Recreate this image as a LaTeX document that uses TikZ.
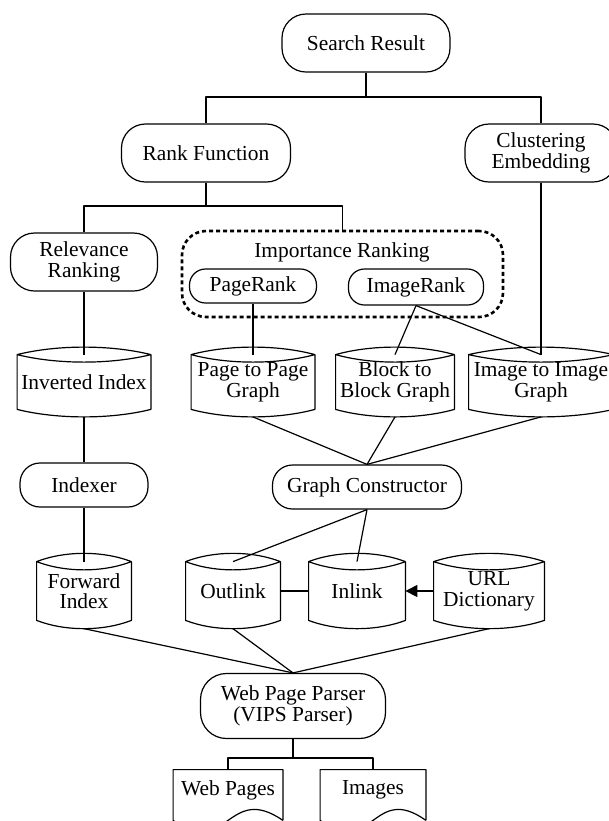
\documentclass[tikz,border=0pt]{standalone}
\usepackage{fontspec}
\setmainfont{Liberation Serif}
\usetikzlibrary{calc,arrows.meta}
\tikzset{
  base/.style={font=\fontsize{10.7}{10.3}\selectfont,align=center,inner sep=0pt},
  term/.style={base,draw,line width=0.6pt,rounded corners=12pt,minimum height=29pt},
  store/.style={base,minimum height=27pt},
  doc/.style={base,minimum height=20pt},
  group/.style={draw,line width=1.3pt,dash pattern=on 2pt off 1.5pt,rounded corners=12pt,inner sep=0pt},
  link/.style={line width=0.6pt},
  stem/.style={line width=1.2pt},
}

\begin{document}
\begin{tikzpicture}[x=0.5pt,y=-0.5pt,line join=round]
  \clip (0,0) rectangle (609,821);
  \fill[white] (0,0) rectangle (609,821);
  % ranking part
  \node[term,minimum width=84pt] (sr) at (366,43) {Search Result};
  \node[term,minimum width=84.5pt] (rf) at (206,153) {Rank Function};
  \node[term,minimum width=76pt] (ce) at (541,153) {Clustering\\Embedding};
  \node[term,minimum width=73.5pt] (rr) at (84,262) {Relevance\\Ranking};
  \node[group,minimum width=160.5pt,minimum height=43pt] (imp) at (342.5,274) {};
  \node[base] (implbl) at (342,252) {Importance Ranking};
  \node[term,rounded corners=8pt,minimum width=63.5pt,minimum height=17pt] (pr) at (253,286) {PageRank};
  \node[term,rounded corners=8pt,minimum width=67.5pt,minimum height=18pt] (ir) at (416,287) {ImageRank};
  % stores
  \node[store,minimum width=66.5pt] (inv) at (84,382) {Inverted Index};
  \node[store,minimum width=61.5pt] (p2p) at (253,382) {Page to Page\\Graph};
  \node[store,minimum width=59pt] (b2b) at (395,382) {Block to\\Block Graph};
  \node[store,minimum width=72pt] (i2i) at (541,382) {Image to Image\\Graph};
  \node[term,rounded corners=10pt,minimum width=64pt,minimum height=22pt] (idx) at (84,485) {Indexer};
  \node[term,rounded corners=10pt,minimum width=94.5pt,minimum height=22pt] (gc) at (367,487) {Graph Constructor};
  \node[store,minimum width=47pt,minimum height=29pt] (fwd) at (84,591) {Forward\\Index};
  \node[store,minimum width=47pt,minimum height=29pt] (out) at (233,591) {Outlink};
  \node[store,minimum width=48pt,minimum height=29pt] (inl) at (357,591) {Inlink};
  \node[store,minimum width=55pt,minimum height=29pt] (url) at (489,591) {URL\\Dictionary};
  \node[term,rounded corners=13pt,minimum width=92.5pt,minimum height=32.5pt] (wpp) at (293,706) {Web Page Parser\\(VIPS Parser)};
  \node[doc,minimum width=54.5pt] (wp) at (228,790) {Web Pages};
  \node[doc,minimum width=52.5pt] (img) at (373,790) {Images};

  \foreach \n/\bulge in {inv/10,p2p/10,b2b/10,i2i/10,fwd/11,out/11,inl/11,url/11}{
    \draw[link] (\n.north west)
      .. controls ($(\n.north west)!.3!(\n.north east)+(0,-\bulge)$) and ($(\n.north west)!.7!(\n.north east)+(0,-\bulge)$) .. (\n.north east)
      .. controls ($(\n.north west)!.7!(\n.north east)+(0,\bulge)$) and ($(\n.north west)!.3!(\n.north east)+(0,\bulge)$) .. (\n.north west)
      -- (\n.south west)
      .. controls ($(\n.south west)!.3!(\n.south east)+(0,\bulge)$) and ($(\n.south west)!.7!(\n.south east)+(0,\bulge)$) .. (\n.south east)
      -- (\n.north east);
    \coordinate (\n-b) at ($(\n.south)+(0,0.75*\bulge)$);
  }
  \foreach \n in {wp,img}{
    \draw[link] ([yshift=-5pt]\n.south east) -- (\n.north east) -- (\n.north west) -- ([yshift=-5pt]\n.south west)
      .. controls ($(\n.south)+(0,48)$) and ($(\n.south)+(0,-28)$) .. ([yshift=-5pt]\n.south east);
  }

  \coordinate (b1) at (366,97);
  \draw[stem] (sr.south) -- (b1);
  \draw[link] (rf.north) |- (b1) -| (ce.north);
  \coordinate (b2) at (206,206);
  \draw[stem] (rf.south) -- (b2);
  \draw[link] (rr.north) |- (b2) -| (imp.north);
  \draw[link] (ce.south) -- (i2i.north);
  \draw[link] (rr.south) -- (inv.north);
  \draw[link] (pr.south) -- (p2p.north);
  \draw[link] (ir.south) -- (b2b.north);
  \draw[link] (ir.south) -- (i2i.north);
  \draw[link] (inv-b) -- (idx.north);
  \foreach \n in {p2p,b2b,i2i} \draw[link] (\n-b) -- (gc.north);
  \draw[link] (idx.south) -- (fwd.north);
  \draw[link] (gc.south) -- (out.north);
  \draw[link] (gc.south) -- (inl.north);
  \draw[link] (out.east) -- (inl.west);
  \draw[link,-{Triangle[length=6pt,width=6pt]}] (url.west) -- (inl.east);
  \foreach \n in {fwd,out,url} \draw[link] (\n-b) -- (wpp.north);
  \coordinate (b3) at (293,758);
  \draw[stem] (wpp.south) -- (b3);
  \draw[link] (wp.north) |- (b3) -| (img.north);
\end{tikzpicture}
\end{document}
